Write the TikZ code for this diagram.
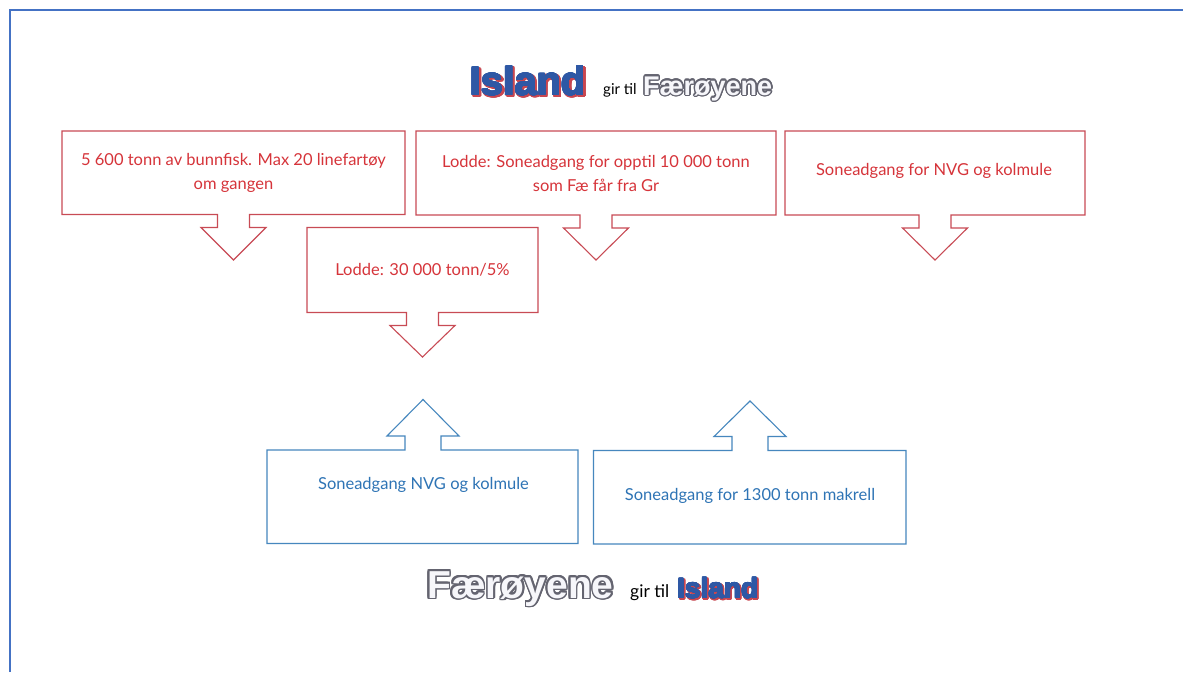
\documentclass[tikz,border=0pt]{standalone}
\usepackage{fontspec}
\setmainfont{Lato}
\newfontfamily\arialf{Liberation Sans}
\definecolor{frameblue}{RGB}{68,114,196}
\definecolor{redline}{RGB}{200,75,85}
\definecolor{redtext}{RGB}{214,52,58}
\definecolor{blueline}{RGB}{70,135,190}
\definecolor{bluetext}{RGB}{46,116,181}
\definecolor{islandblue}{RGB}{46,88,165}
\definecolor{islandred}{RGB}{200,70,80}
\definecolor{faroutline}{RGB}{100,100,112}
\definecolor{farfill}{RGB}{246,246,250}
\tikzset{
  redbox/.style={draw=redline, line width=1.1pt, fill=white, line join=miter},
  bluebox/.style={draw=blueline, line width=1.1pt, fill=white, line join=miter},
  redtxt/.style={text=redtext, align=center, inner sep=0pt, font=\fontsize{16.5}{24}\selectfont},
  bluetxt/.style={text=bluetext, align=center, inner sep=0pt, font=\fontsize{16.5}{24}\selectfont},
  small/.style={anchor=base west, inner sep=0pt, text=black}
}
% down callout: style, L, R, T, B, C, tip
\newcommand\calldown[7]{%
  \draw[#1] (#2,#4) -- (#3,#4) -- (#3,#5) -- ({#6+16},#5) -- ({#6+16},{#5+13}) -- ({#6+32.5},{#5+13}) -- (#6,#7) -- ({#6-32.5},{#5+13}) -- ({#6-16},{#5+13}) -- ({#6-16},#5) -- (#2,#5) -- cycle;}
% up callout: style, L, R, T, B, C, tip
\newcommand\callup[7]{%
  \draw[#1] (#2,#4) -- ({#6-18},#4) -- ({#6-18},{#4-14}) -- ({#6-36},{#4-14}) -- (#6,#7) -- ({#6+36},{#4-14}) -- ({#6+18},{#4-14}) -- ({#6+18},#4) -- (#3,#4) -- (#3,#5) -- (#2,#5) -- cycle;}
% outlined text: name, position x,y, outline colour, fill colour, font, radius, text
\newcommand\outlinetxt[7]{%
  \foreach \a in {0,20,...,340}{\node[anchor=base west, inner sep=0pt, text=#3, font=#5] at ([shift={(\a:#6)}]#2) {#7};}
  \node[anchor=base west, inner sep=0pt, text=#4, font=#5] (#1) at (#2) {#7};}
\begin{document}
\begin{tikzpicture}[x=1pt,y=-1pt]
\useasboundingbox (0,0) rectangle (1183,672);
\fill[white] (0,0) rectangle (1183,672);
\draw[frameblue, line width=2pt] (10,672) -- (10,10) -- (1183,10);

% title top
\outlinetxt{islandTshadow}{471.5,96.5}{islandred}{islandred}{\arialf\bfseries\fontsize{40}{44}\selectfont}{1.3}{Island}
\outlinetxt{islandT}{470,95}{islandblue}{islandblue}{\arialf\bfseries\fontsize{40}{44}\selectfont}{0.6}{Island}
\node[small, font=\fontsize{15}{18}\selectfont] (girT) at (603,94) {gir til};
\outlinetxt{farT}{643,95}{faroutline}{farfill}{\arialf\bfseries\fontsize{27}{30}\selectfont}{1.4}{Færøyene}

% red callouts
\calldown{redbox}{62}{405}{131}{214.5}{233.5}{260}
\node[redtxt] (t1) at (233.5,173) {5 600 tonn av bunnfisk. Max 20 linefartøy\\om gangen};
\calldown{redbox}{416}{776}{131}{215}{596}{260}
\node[redtxt] (t2) at (596,173) {Lodde: Soneadgang for opptil 10 000 tonn\\som Fæ får fra Gr};
\calldown{redbox}{785}{1085}{131}{215}{935}{260}
\node[redtxt] (t3) at (934,171) {Soneadgang for NVG og kolmule};
\calldown{redbox}{307}{538}{227.5}{312.5}{422.5}{357}
\node[redtxt] (t4) at (422.5,270) {Lodde: 30 000 tonn/5\%};

% blue callouts
\callup{bluebox}{267}{578}{450}{543.5}{423}{399.5}
\node[bluetxt] (t5) at (423.5,485) {Soneadgang NVG og kolmule};
\callup{bluebox}{593.5}{906}{450.5}{544}{750}{401}
\node[bluetxt] (t6) at (750,496) {Soneadgang for 1300 tonn makrell};

% title bottom
\outlinetxt{farB}{427,598}{faroutline}{farfill}{\arialf\bfseries\fontsize{39}{42}\selectfont}{1.6}{Færøyene}
\node[small, font=\fontsize{17.5}{20}\selectfont] (girB) at (630,597) {gir til};
\outlinetxt{islandBshadow}{678.2,599.2}{islandred}{islandred}{\arialf\bfseries\fontsize{28}{32}\selectfont}{1.1}{Island}
\outlinetxt{islandB}{677,598}{islandblue}{islandblue}{\arialf\bfseries\fontsize{28}{32}\selectfont}{0.5}{Island}
\end{tikzpicture}
\end{document}
